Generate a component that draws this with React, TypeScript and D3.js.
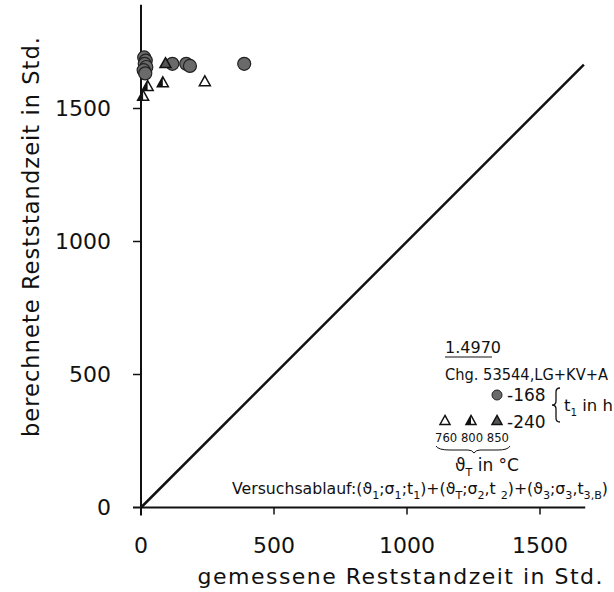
import React from 'react';
import * as d3 from 'd3';

// ---- data ----
const xTicks = [0, 500, 1000, 1500];
const yTicks = [0, 500, 1000, 1500];
// t1 = 168 h (circles)
const circX = [12, 18, 14, 20, 10, 16, 118, 170, 184, 388];
const circY = [1692, 1680, 1668, 1656, 1644, 1632, 1668, 1668, 1660, 1668];
// t1 = 240 h (triangles), theta_T: 760 / 800 / 850
const triX = [240, 82, 25, 8, 92];
const triY = [1600, 1596, 1582, 1545, 1668];
const triT = [760, 800, 800, 800, 850];
const legendTemps = ['760', '800', '850'];
const diagEnd = 1665;

const W = 614, H = 592;
const x = d3.scaleLinear().domain([0, 1700]).range([141, 141 + 1700 * (133 / 500)]);
const y = d3.scaleLinear().domain([0, 1900]).range([507.5, 507.5 - 1900 * (133 / 500)]);

const FONT = 'DejaVu Sans, sans-serif';

function tri(cx: number, cy: number, s: number) {
  const h = s * 0.9;
  return `M${cx},${cy - h * 0.62} L${cx + s / 2},${cy + h * 0.38} L${cx - s / 2},${cy + h * 0.38} Z`;
}

function Tri({ cx, cy, t, s = 11 }: { cx: number; cy: number; t: number; s?: number }) {
  if (t === 760) return <path d={tri(cx, cy, s)} fill="#fff" stroke="#111" strokeWidth={1.5} />;
  if (t === 800)
    return (
      <g>
        <path d={tri(cx, cy, s)} fill="#fff" stroke="#111" strokeWidth={1.5} />
        <path d={`M${cx},${cy - s * 0.9 * 0.62} L${cx},${cy + s * 0.9 * 0.38} L${cx - s / 2},${cy + s * 0.9 * 0.38} Z`} fill="#111" />
      </g>
    );
  return <path d={tri(cx, cy, s)} fill="#555" stroke="#111" strokeWidth={1.5} />;
}

type Seg = { t: string; sub?: boolean };
function Rich({ segs, size, subSize }: { segs: Seg[]; size: number; subSize: number }) {
  const out: React.ReactNode[] = [];
  let down = false;
  segs.forEach((s, i) => {
    let dy = 0;
    if (s.sub && !down) { dy = size * 0.3; down = true; }
    else if (!s.sub && down) { dy = -size * 0.3; down = false; }
    out.push(
      <tspan key={i} dy={dy} fontSize={s.sub ? subSize : size}>{s.t}</tspan>
    );
  });
  return <>{out}</>;
}

const versuch: Seg[] = [
  { t: 'Versuchsablauf:(ϑ' }, { t: '1', sub: true }, { t: ';σ' }, { t: '1', sub: true }, { t: ';t' }, { t: '1', sub: true },
  { t: ')+(ϑ' }, { t: 'T', sub: true }, { t: ';σ' }, { t: '2', sub: true }, { t: ',t ' }, { t: '2', sub: true },
  { t: ')+(ϑ' }, { t: '3', sub: true }, { t: ';σ' }, { t: '3', sub: true }, { t: ',t' }, { t: '3,B', sub: true }, { t: ')' },
];

export default function App() {
  return (
    <svg width={W} height={H} style={{ position: 'absolute', left: 0, top: 0, background: '#fff' }} fontFamily={FONT}>
      <rect width={W} height={H} fill="#fff" />
      {/* axes */}
      <line x1={x(0)} x2={x(0)} y1={y(0) + 8} y2={y(1890)} stroke="#111" strokeWidth={2} />
      <line x1={x(0) - 8} x2={x(1670)} y1={y(0)} y2={y(0)} stroke="#111" strokeWidth={2} />
      {/* diagonal y = x */}
      <line x1={x(0)} y1={y(0)} x2={x(diagEnd)} y2={y(diagEnd)} stroke="#111" strokeWidth={2.5} />
      {/* y ticks */}
      {yTicks.map((v) => (
        <g key={'y' + v}>
          {v > 0 && <line x1={x(0) - 8} x2={x(0)} y1={y(v)} y2={y(v)} stroke="#111" strokeWidth={1.5} />}
          <text x={111} y={y(v)} dy="0.36em" textAnchor="end" fontSize={22} fill="#111">{v}</text>
        </g>
      ))}
      {/* x ticks */}
      {xTicks.map((v) => (
        <g key={'x' + v}>
          {v > 0 && <line x1={x(v)} x2={x(v)} y1={y(0)} y2={y(0) + 7} stroke="#111" strokeWidth={1.5} />}
          <text x={x(v)} y={553} textAnchor="middle" fontSize={22} fill="#111">{v}</text>
        </g>
      ))}
      {/* axis titles */}
      <text x={400} y={584} textAnchor="middle" fontSize={22} fill="#111" textLength={405} lengthAdjust="spacing">gemessene Reststandzeit in Std.</text>
      <text transform={`translate(39,237) rotate(-90)`} textAnchor="middle" fontSize={22.5} fill="#111" textLength={400} lengthAdjust="spacing">berechnete Reststandzeit in Std.</text>

      {/* data: circles */}
      {circX.map((v, i) => (
        <circle key={'c' + i} cx={x(v)} cy={y(circY[i])} r={6.5} fill="#6a6a6a" stroke="#222" strokeWidth={1.2} />
      ))}
      {/* data: triangles */}
      {triX.map((v, i) => (
        <Tri key={'t' + i} cx={x(v)} cy={y(triY[i])} t={triT[i]} />
      ))}

      {/* legend */}
      <text x={445} y={353} fontSize={16} fill="#111">1.4970</text>
      <line x1={445} x2={492} y1={357} y2={357} stroke="#111" strokeWidth={1} />
      <text x={445} y={380} fontSize={15} fill="#111" textLength={163} lengthAdjust="spacingAndGlyphs">Chg. 53544,LG+KV+A</text>
      <circle cx={497} cy={395} r={5} fill="#6a6a6a" stroke="#222" strokeWidth={1} />
      <text x={507} y={401} fontSize={17} fill="#111">-168</text>
      <path d="M560,388 Q556,388 556,392 L556,401 Q556,405 552,405 Q556,405 556,409 L556,418 Q556,422 560,422" fill="none" stroke="#111" strokeWidth={1.3} />
      <text x={564} y={411} fontSize={16} fill="#111" textLength={49} lengthAdjust="spacingAndGlyphs">
        <Rich segs={[{ t: 't' }, { t: '1', sub: true }, { t: ' in h' }]} size={16} subSize={10} />
      </text>
      {legendTemps.map((tt, i) => (
        <Tri key={'lt' + i} cx={445 + i * 26} cy={421} t={+tt} s={10} />
      ))}
      <text x={507} y={428} fontSize={17} fill="#111">-240</text>
      <text x={435} y={442} fontSize={13} fill="#111" textLength={74} lengthAdjust="spacingAndGlyphs">{legendTemps.join(' ')}</text>
      <path d="M436,446 Q438,450 450,450 L468,450 Q472,450 474,453 Q476,450 480,450 L498,450 Q508,450 510,446" fill="none" stroke="#111" strokeWidth={1} />
      <text x={455} y={471} fontSize={17} fill="#111">
        <Rich segs={[{ t: 'ϑ' }, { t: 'T', sub: true }, { t: ' in °C' }]} size={17} subSize={11} />
      </text>
      <text x={232} y={494} fontSize={15.5} fill="#111" textLength={376} lengthAdjust="spacingAndGlyphs">
        <Rich segs={versuch} size={15.5} subSize={11} />
      </text>
    </svg>
  );
}
